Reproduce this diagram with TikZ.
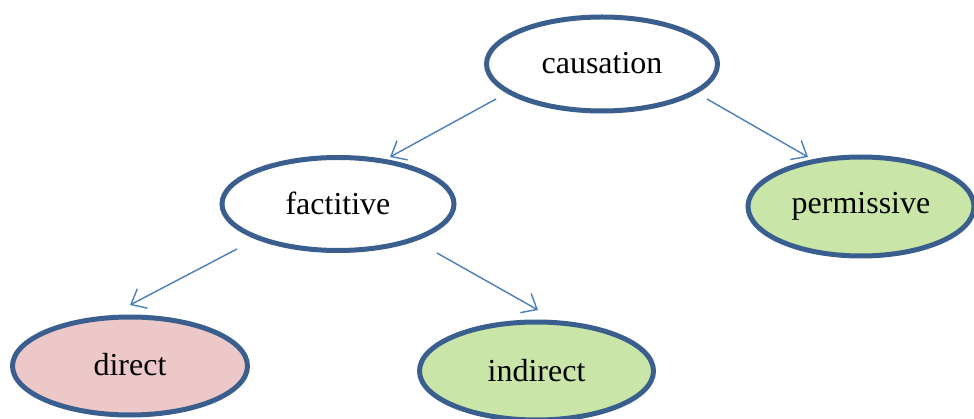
\documentclass[tikz,border=0pt]{standalone}
\usepackage{fontspec}
\setmainfont{Liberation Serif}
\usetikzlibrary{shapes.geometric,arrows.meta}
\definecolor{edgeblue}{HTML}{3A5F8E}
\definecolor{arrowblue}{HTML}{4A7EBB}
\definecolor{greenfill}{HTML}{C9E5A8}
\definecolor{pinkfill}{HTML}{ECC8C8}
\tikzset{
  oval/.style={ellipse, draw=edgeblue, line width=5pt, inner sep=0pt,
    font=\fontsize{32}{36}\selectfont},
  link/.style={draw=arrowblue, line width=1.4pt,
    -{Straight Barb[length=13pt,width=22pt,line width=1.4pt]}}
}
\begin{document}
\begin{tikzpicture}[x=1pt,y=-1pt]
\useasboundingbox (0,0) rectangle (974,419);
\node[oval, fill=white, minimum width=231pt, minimum height=94pt] (causation) at (602,64) {\raisebox{2pt}{causation}};
\node[oval, fill=white, minimum width=232pt, minimum height=93pt] (factitive) at (338,204) {\raisebox{1pt}{factitive}};
\node[oval, fill=greenfill, minimum width=226pt, minimum height=99pt] (permissive) at (861,206.5) {\raisebox{2pt}{permissive}};
\node[oval, fill=pinkfill, minimum width=235pt, minimum height=98pt] (direct) at (130,366) {\raisebox{4pt}{direct}};
\node[oval, fill=greenfill, minimum width=234pt, minimum height=98pt] (indirect) at (536.5,371) {\raisebox{2pt}{indirect}};
\coordinate (c1) at (496,99);
\coordinate (f1) at (390,157);
\coordinate (c2) at (707,99);
\coordinate (p1) at (808,157);
\coordinate (f2) at (237,249);
\coordinate (d1) at (130,305);
\coordinate (f3) at (437,253);
\coordinate (i1) at (538,310);
\draw[link] (c1) -- (f1);
\draw[link] (c2) -- (p1);
\draw[link] (f2) -- (d1);
\draw[link] (f3) -- (i1);
\end{tikzpicture}
\end{document}
